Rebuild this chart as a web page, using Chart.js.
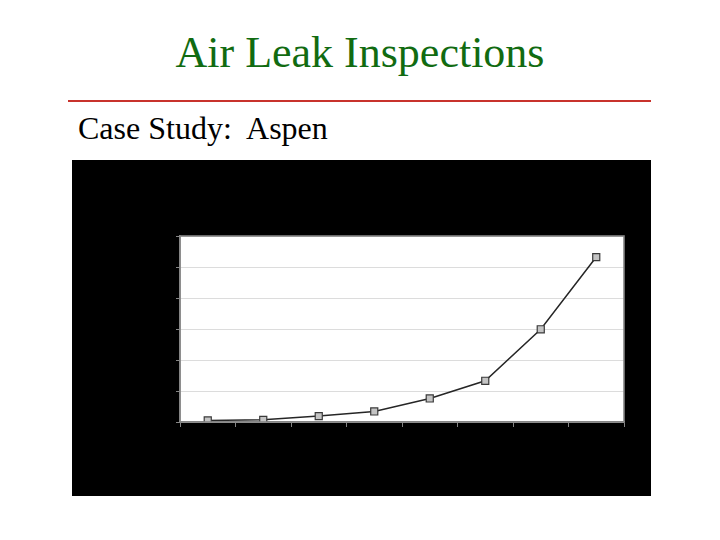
<!DOCTYPE html>
<html>
<head>
<meta charset="utf-8">
<title>Air Leak Inspections</title>
<script src="https://cdn.jsdelivr.net/npm/chart.js@4"></script>
<style>
  body { margin: 0; width: 720px; height: 540px; background: #fff; position: relative; overflow: hidden; }
  #heading {
    position: absolute; left: 0; width: 720px; top: 27px; text-align: center;
    font-family: "Liberation Serif", "Times New Roman", serif; font-size: 44px; color: #116b11;
  }
  #rule { position: absolute; left: 68px; top: 100px; width: 583px; height: 2px; background: #c8322c; }
  #sub {
    position: absolute; left: 78px; top: 110px; white-space: pre;
    font-family: "Liberation Serif", "Times New Roman", serif; font-size: 32px; color: #000;
  }
  #box { position: absolute; left: 72px; top: 160px; width: 579px; height: 336px; background: #000; }
</style>
</head>
<body>
<div id="heading">Air Leak Inspections</div>
<div id="rule"></div>
<div id="sub">Case Study:  Aspen</div>
<div id="box"><canvas id="leakChart"></canvas></div>
<script>
// chart data
const years = ["1999", "2000", "2001", "2002", "2003", "2004", "2005", "2006"];
const savings = [50, 70, 190, 340, 760, 1330, 2990, 5320];
const yTicks = [0, 1000, 2000, 3000, 4000, 5000, 6000];
const chartTitle = ["Cumulative Annual Savings from Compressed Air Leak Repairs at Aspen", "Aspen Plant, 1999 - 2006"];

const ink = "#000"; // text is black on the black panel

// white plot area with grey frame
const plotFrame = {
  id: "plotFrame",
  beforeDraw(c) {
    const a = c.chartArea, ctx = c.ctx;
    ctx.save();
    ctx.fillStyle = "#fff";
    ctx.fillRect(a.left, a.top, a.right - a.left, a.bottom - a.top);
    ctx.restore();
  },
  afterDatasetsDraw(c) {
    const a = c.chartArea, ctx = c.ctx;
    ctx.save();
    ctx.strokeStyle = "#858585";
    ctx.lineWidth = 1.6;
    ctx.strokeRect(a.left, a.top, a.right - a.left, a.bottom - a.top);
    ctx.restore();
  }
};

new Chart(document.getElementById("leakChart"), {
  type: "line",
  data: {
    labels: years,
    datasets: [{
      label: "Savings",
      data: savings,
      borderColor: "#262626",
      borderWidth: 1.5,
      pointStyle: "rect",
      pointRadius: 5,
      pointBackgroundColor: "#c4c4c4",
      pointBorderColor: "#3a3a3a",
      pointBorderWidth: 1.2,
      tension: 0
    }]
  },
  options: {
    responsive: true,
    maintainAspectRatio: false,
    animation: false,
    layout: { padding: { left: 0, right: 27, top: 0, bottom: 0 } },
    plugins: {
      legend: { display: false },
      tooltip: { enabled: false },
      title: {
        display: true,
        text: chartTitle,
        color: ink,
        font: { family: "Arial", size: 12, weight: "bold", lineHeight: 1.6667 },
        padding: { top: 17, bottom: 19 }
      }
    },
    scales: {
      x: {
        offset: true,
        grid: { offset: true, drawOnChartArea: false, color: "#858585", tickLength: 5 },
        border: { color: "#858585", width: 1.6 },
        ticks: { color: ink, font: { family: "Arial", size: 11 }, padding: 4, maxRotation: 0 },
        title: { display: true, text: "Year of Inspection", color: ink, font: { family: "Arial", size: 12, weight: "bold" }, padding: { top: 18 } },
        afterFit(s) { s.height = 74; }
      },
      y: {
        min: 0,
        max: 6000,
        afterBuildTicks(s) { s.ticks = yTicks.map(v => ({ value: v })); },
        grid: { color: "#dcdcdc", tickColor: "#858585", tickLength: 4, lineWidth: 1 },
        border: { color: "#858585", width: 1.6 },
        ticks: {
          color: ink,
          font: { family: "Arial", size: 11 },
          padding: 6,
          callback: v => "$" + v.toLocaleString("en-US")
        },
        title: { display: true, text: ["Annual Savings", "($ per year)"], color: ink, font: { family: "Arial", size: 12, weight: "bold" }, padding: { bottom: 4 } },
        afterFit(s) { s.width = 108; }
      }
    }
  },
  plugins: [plotFrame]
});
</script>
</body>
</html>
